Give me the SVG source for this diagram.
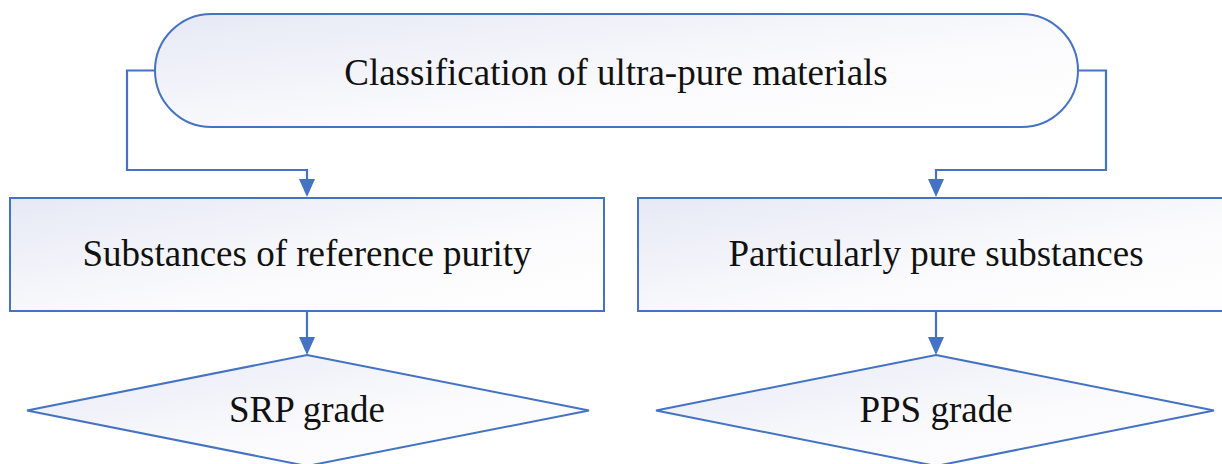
<svg xmlns="http://www.w3.org/2000/svg" width="1222" height="464" viewBox="0 0 1222 464">
  <style>
    .shape { fill: url(#grad); stroke: #4472C4; stroke-width: 2; }
    .conn { fill: none; stroke: #4472C4; stroke-width: 2.2; }
    .label { font-family: "Liberation Serif", "Times New Roman", serif; font-size: 37px; fill: #111; text-anchor: middle; }
  </style>
  <defs>
    <linearGradient id="grad" x1="0" y1="0" x2="1" y2="1">
      <stop offset="0" stop-color="#e6e9f5"/>
      <stop offset="0.6" stop-color="#fbfbfd"/>
      <stop offset="1" stop-color="#ffffff"/>
    </linearGradient>
    <marker id="arrow" markerUnits="userSpaceOnUse" markerWidth="16" markerHeight="18" refX="8" refY="18" orient="auto-start-reverse" viewBox="0 0 16 18">
      <path d="M0,0 L16,0 L8,18 Z" fill="#4472C4" transform="rotate(0)"/>
    </marker>
  </defs>
  <rect width="1222" height="464" fill="#ffffff"/>

  <g id="connectors">
    <path class="conn" d="M155,70.5 H127 V170 H307 V181"/>
    <polygon points="299,179 315,179 307,197" fill="#4472C4"/>
    <path class="conn" d="M1078,70.5 H1106 V170 H936 V181"/>
    <polygon points="928,179 944,179 936,197" fill="#4472C4"/>
    <path class="conn" d="M307,311 V339"/>
    <polygon points="299,337 315,337 307,355" fill="#4472C4"/>
    <path class="conn" d="M936,311 V339"/>
    <polygon points="928,337 944,337 936,355" fill="#4472C4"/>
  </g>

  <g id="node-root">
    <rect class="shape" x="155" y="14" width="923" height="113" rx="56.5" ry="56.5"/>
    <text class="label" x="616" y="85">Classification of ultra-pure materials</text>
  </g>

  <g id="node-srp">
    <rect class="shape" x="10" y="198" width="594" height="113"/>
    <text class="label" x="307" y="266">Substances of reference purity</text>
  </g>

  <g id="node-pps">
    <rect class="shape" x="638" y="198" width="596" height="113"/>
    <text class="label" x="936" y="266">Particularly pure substances</text>
  </g>

  <g id="node-srp-grade">
    <polygon class="shape" points="307,355 589,410.5 307,466 27,410.5"/>
    <text class="label" x="307" y="422">SRP grade</text>
  </g>

  <g id="node-pps-grade">
    <polygon class="shape" points="936,355 1214,410.5 936,466 656,410.5"/>
    <text class="label" x="936" y="422">PPS grade</text>
  </g>
</svg>
